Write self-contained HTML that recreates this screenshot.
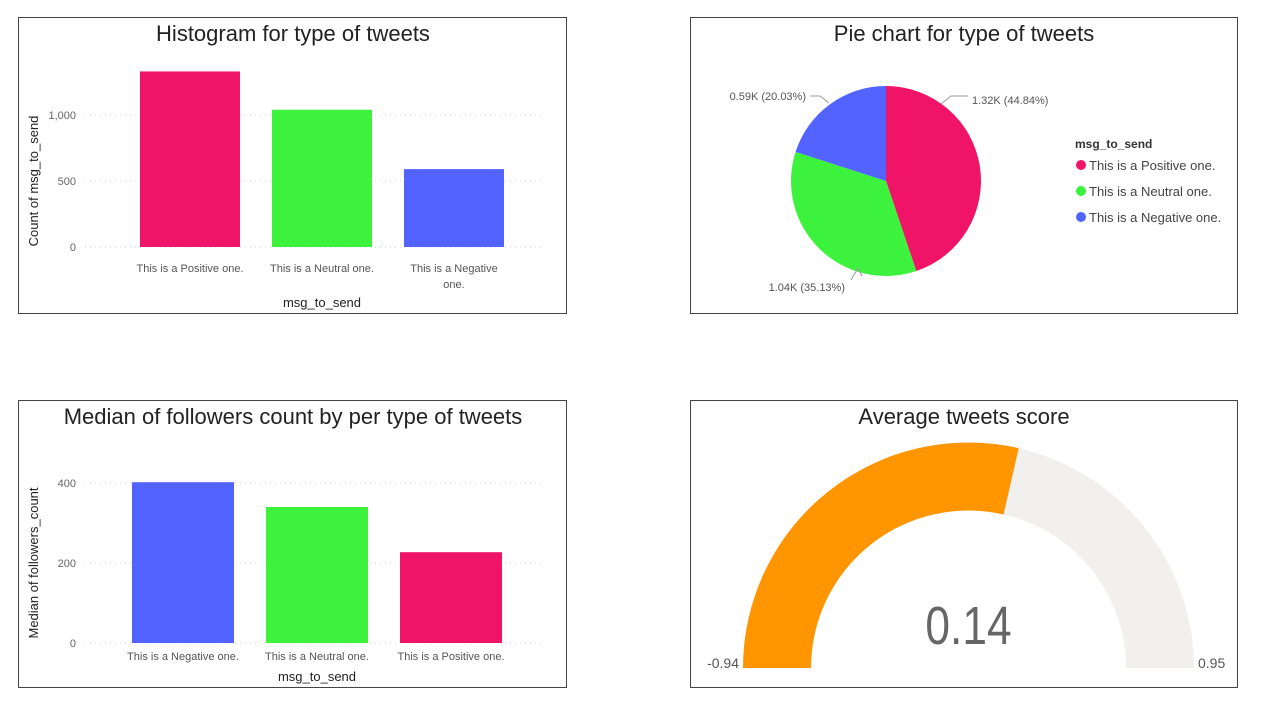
<!DOCTYPE html>
<html><head><meta charset="utf-8"><style>
body{margin:0;background:#fff;width:1264px;height:707px;overflow:hidden;font-family:"Liberation Sans",sans-serif}
svg{position:absolute;left:0;top:0}
</style></head><body>
<svg id="s" width="1264" height="707" xmlns="http://www.w3.org/2000/svg">
<rect x="18.5" y="17.5" width="548" height="296" fill="#fff" stroke="#444"/>
<rect x="690.5" y="17.5" width="547" height="296" fill="#fff" stroke="#444"/>
<rect x="18.5" y="400.5" width="548" height="287" fill="#fff" stroke="#444"/>
<rect x="690.5" y="400.5" width="547" height="287" fill="#fff" stroke="#444"/>
<text x="293" y="41" font-size="22" text-anchor="middle" fill="#222">Histogram for type of tweets</text>
<text x="964" y="41" font-size="22" text-anchor="middle" fill="#222">Pie chart for type of tweets</text>
<text x="293" y="424" font-size="22" text-anchor="middle" fill="#222">Median of followers count by per type of tweets</text>
<text x="964" y="424" font-size="22" text-anchor="middle" fill="#222">Average tweets score</text>
<g id="g1"></g><g id="g2"></g><g id="g3"></g><g id="g4"></g>
</svg>
<script>
const NS="http://www.w3.org/2000/svg";
const histCats=["This is a Positive one.","This is a Neutral one.","This is a Negative one."];
const histVals=[1330,1040,590];
const histTicks=[0,500,1000];
const medCats=["This is a Negative one.","This is a Neutral one.","This is a Positive one."];
const medVals=[402,340,227];
const medTicks=[0,200,400];
const pieCats=["This is a Positive one.","This is a Neutral one.","This is a Negative one."];
const pieVals=[1320,1034,590];
const pieLabels=["1.32K (44.84%)","1.04K (35.13%)","0.59K (20.03%)"];
const gaugeMin=-0.94, gaugeMax=0.95, gaugeVal=0.14;
const colors={"This is a Positive one.":"#EF1468","This is a Neutral one.":"#3DF23D","This is a Negative one.":"#5263FF"};

function el(p,tag,a,txt){const e=document.createElementNS(NS,tag);for(const k in a)e.setAttribute(k,a[k]);if(txt!==undefined)e.textContent=txt;p.appendChild(e);return e;}

function bar(g,cats,vals,ticks,y0,scale,x0,step,bw,xMin,xMax,yTitle,wrapLong,ttlY,labY){
  const y=v=>y0-v*scale;
  ticks.forEach(t=>{
    const ln=el(g,"line",{x1:xMin,x2:xMax,y1:y(t),y2:y(t),stroke:"#ccc","stroke-dasharray":"1 4"});
    
    
    const tx=el(g,"text",{x:76,y:y(t)+4,"font-size":11,fill:"#666","text-anchor":"end"},t.toLocaleString("en-US"));
    
    
  });
  cats.forEach((c,i)=>{
    const x=x0+i*step;
    const r=el(g,"rect",{x:x,y:y(vals[i]),width:bw,height:vals[i]*scale,fill:colors[c]});
    
    
    let t;
    if(wrapLong&&c.includes("Negative")){
      const k=c.lastIndexOf(" ");
      t=el(g,"text",{x:x+bw/2,y:labY,"font-size":11,fill:"#555","text-anchor":"middle"});
      el(t,"tspan",{x:x+bw/2},c.slice(0,k));
      el(t,"tspan",{x:x+bw/2,dy:16},c.slice(k+1));
    } else t=el(g,"text",{x:x+bw/2,y:labY,"font-size":11,fill:"#555","text-anchor":"middle"},c);
    
    
  });
  const xt=el(g,"text",{x:x0+step+bw/2,y:ttlY,"font-size":13,fill:"#222","text-anchor":"middle"},"msg_to_send");
  
  
  const cy=(y(ticks[ticks.length-1])+y0)/2;
  const yt=el(g,"text",{x:0,y:0,"font-size":13,fill:"#222","text-anchor":"middle",transform:`translate(38,${cy}) rotate(-90)`},yTitle);
  
  
}
bar(document.getElementById("g1"),histCats,histVals,histTicks,247,0.132,140,132,100,85,545,"Count of msg_to_send",true,307,272);
bar(document.getElementById("g3"),medCats,medVals,medTicks,643,0.4,132,134,102,85,545,"Median of followers_count",false,681,660);

// pie
const g2=document.getElementById("g2");
const cx=886,cy=181,R=95;
const tot=pieVals.reduce((a,b)=>a+b,0);
let a0=0;
const lpos=[[972,104,"start"],[845,291,"end"],[806,100,"end"]];
pieVals.forEach((v,i)=>{
  const a1=a0+v/tot*2*Math.PI;
  const p=(a)=>[cx+R*Math.sin(a),cy-R*Math.cos(a)];
  const [x1,y1]=p(a0),[x2,y2]=p(a1);
  const s=el(g2,"path",{d:`M${cx},${cy}L${x1},${y1}A${R},${R} 0 ${a1-a0>Math.PI?1:0} 1 ${x2},${y2}Z`,fill:colors[pieCats[i]]});
  
  
  a0=a1;
});
[[941,104,951,96,968,96],[851,280,858,268,862,276],[810,96,820,96,829,103]].forEach((q,i)=>{
  const ll=el(g2,"polyline",{points:`${q[0]},${q[1]} ${q[2]},${q[3]} ${q[4]},${q[5]}`,fill:"none",stroke:"#999"});
  
  
});
pieLabels.forEach((lab,i)=>{
  const [lx,ly,an]=lpos[i];
  const t=el(g2,"text",{x:lx,y:ly,"font-size":11,fill:"#555","text-anchor":an},lab);
  
  
});
const lt=el(g2,"text",{x:1075,y:148,"font-size":12,"font-weight":"bold",fill:"#333"},"msg_to_send");


pieCats.forEach((c,i)=>{
  const yy=165+i*26;
  const d=el(g2,"circle",{cx:1081,cy:yy,r:5,fill:colors[c]});
  
  
  const t=el(g2,"text",{x:1089,y:yy+5,"font-size":13,fill:"#444"},c);
  
  
});

// gauge
const g4=document.getElementById("g4");
const gx=968.5,gy=668,Ro=225.5,Ri=157.5;
function arc(f0,f1,col,name){
  const ang=f=>Math.PI*(1-f);
  const P=(r,f)=>[gx+r*Math.cos(ang(f)),gy-r*Math.sin(ang(f))];
  const [a,b]=P(Ro,f0),[c,d]=P(Ro,f1),[e,f]=P(Ri,f1),[g,h]=P(Ri,f0);
  const p=el(g4,"path",{d:`M${a},${b}A${Ro},${Ro} 0 0 1 ${c},${d}L${e},${f}A${Ri},${Ri} 0 0 0 ${g},${h}Z`,fill:col});
  
  
}
const frac=(gaugeVal-gaugeMin)/(gaugeMax-gaugeMin);
arc(0,1,"#F1F0EF","gauge-track");
arc(0,frac,"#FF9500","gauge-fill");
const gv=el(g4,"text",{x:gx,y:644,"font-size":54,fill:"#666","text-anchor":"middle",transform:`translate(${gx},0) scale(0.82,1) translate(${-gx},0)`},gaugeVal.toFixed(2));


const gmn=el(g4,"text",{x:739,y:668,"font-size":14,fill:"#555","text-anchor":"end"},gaugeMin.toFixed(2));


const gmx=el(g4,"text",{x:1198,y:668,"font-size":14,fill:"#555"},gaugeMax.toFixed(2));


</script>
</body></html>
